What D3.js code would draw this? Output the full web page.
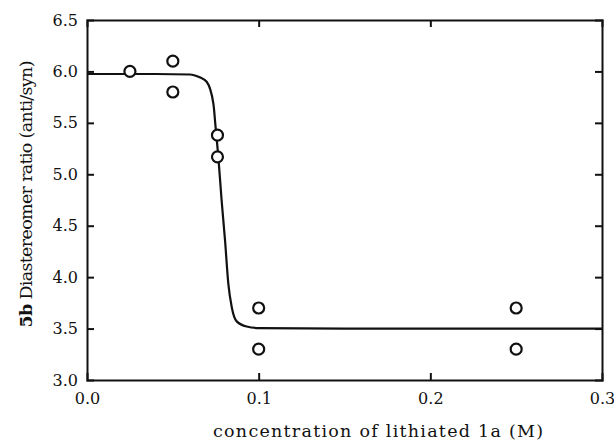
<!DOCTYPE html>
<html>
<head>
<meta charset="utf-8">
<script src="https://cdn.jsdelivr.net/npm/d3@7"></script>
<style>
  body { margin: 0; background: white; }
  svg { display: block; }
  text { font-family: "DejaVu Serif", "Liberation Serif", serif; fill: #111; }
</style>
</head>
<body>
<div id="chart"></div>
<script>
let w = 614;
let h = 441;
let margin = {top: 20, right: 12, bottom: 61, left: 87};

// measured points
let pointX = [0.025, 0.05, 0.05, 0.076, 0.076, 0.1, 0.1, 0.25, 0.25];
let pointY = [6.0, 6.1, 5.8, 5.38, 5.17, 3.7, 3.3, 3.7, 3.3];

// fitted curve
let curveX = [0, 0.04, 0.06, 0.0629, 0.066, 0.0697, 0.0736, 0.0749, 0.0765, 0.0784, 0.0804, 0.0823, 0.0843, 0.0872, 0.093, 0.1, 0.15, 0.3];
let curveY = [5.975, 5.975, 5.97, 5.96, 5.94, 5.90, 5.69, 5.46, 5.17, 4.75, 4.36, 3.94, 3.71, 3.57, 3.52, 3.505, 3.5, 3.5];

let xTicks = [0, 0.1, 0.2, 0.3];
let yTicks = [3.0, 3.5, 4.0, 4.5, 5.0, 5.5, 6.0, 6.5];

let svg = d3.select("#chart")
  .append("svg")
  .attr("width", w)
  .attr("height", h)
;

let xScale = d3.scaleLinear().domain([0, 0.3]).range([margin.left, w - margin.right]);
let yScale = d3.scaleLinear().domain([3.0, 6.5]).range([h - margin.bottom, margin.top]);

let tickLen = 7;

// ticks pointing inward on all four sides
let bottomAxis = d3.axisBottom(xScale).tickValues(xTicks).tickSize(-tickLen).tickPadding(tickLen + 6).tickFormat(d3.format(".1f"));
let topAxis = d3.axisTop(xScale).tickValues(xTicks).tickSize(-tickLen).tickFormat("");
let leftAxis = d3.axisLeft(yScale).tickValues(yTicks).tickSize(-tickLen).tickPadding(tickLen + 2).tickFormat(d3.format(".1f"));
let rightAxis = d3.axisRight(yScale).tickValues(yTicks).tickSize(-tickLen).tickFormat("");

function styleAxis(g){
  g.select(".domain").attr("stroke", "#111").attr("stroke-width", 2);
  g.selectAll(".tick line").attr("stroke", "#111").attr("stroke-width", 2);
  g.selectAll(".tick text").style("font-family", "DejaVu Serif, serif").style("font-size", "16px").attr("fill", "#111");
}

svg.append("g").attr("transform", "translate(0," + (h - margin.bottom) + ")").call(bottomAxis).call(styleAxis);
svg.append("g").attr("transform", "translate(0," + margin.top + ")").call(topAxis).call(styleAxis);
svg.append("g").attr("transform", "translate(" + margin.left + ",0)").call(leftAxis).call(styleAxis);
svg.append("g").attr("transform", "translate(" + (w - margin.right) + ",0)").call(rightAxis).call(styleAxis);

// hide the end ticks that sit on the frame corners
svg.selectAll(".tick").filter(function(d){ return d === 0 || d === 0.3 || d === 3.0 || d === 6.5; })
  .select("line").attr("stroke-width", 0);

let curveData = curveX.map((x, i) => ({x: x, y: curveY[i]}));
let line = d3.line()
  .x(d => xScale(d.x))
  .y(d => yScale(d.y))
  .curve(d3.curveMonotoneX);

svg.append("path")
  .datum(curveData)
  .attr("d", line)
  .attr("fill", "none")
  .attr("stroke", "#111")
  .attr("stroke-width", 2.2);

let points = pointX.map((x, i) => ({x: x, y: pointY[i]}));
svg.selectAll(".datapoint").data(points).enter()
  .append("circle")
  .attr("class", "datapoint")
  .attr("cx", d => xScale(d.x))
  .attr("cy", d => yScale(d.y))
  .attr("r", 5.5)
  .attr("fill", "white")
  .attr("stroke", "#111")
  .attr("stroke-width", 2.2);

// axis titles
svg.append("text")
  .attr("x", 378)
  .attr("y", 437)
  .attr("text-anchor", "middle")
  .attr("textLength", 330)
  .attr("lengthAdjust", "spacing")
  .style("font-size", "17.5px")
  .text("concentration of lithiated 1a (M)");

let yTitle = svg.append("text")
  .attr("transform", "translate(32,194) rotate(-90)")
  .attr("text-anchor", "middle")
  .attr("textLength", 267)
  .attr("lengthAdjust", "spacing")
  .style("font-size", "17.5px");
yTitle.append("tspan").style("font-weight", "bold").text("5b");
yTitle.append("tspan").text(" Diastereomer ratio (anti/syn)");
</script>
</body>
</html>
